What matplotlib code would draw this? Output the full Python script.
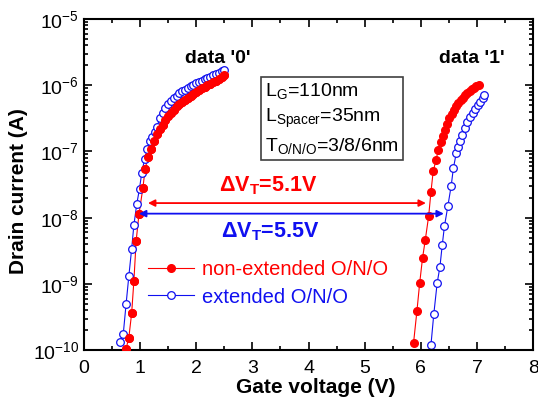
import numpy as np
from matplotlib import pyplot as plt
from matplotlib.ticker import MultipleLocator, LogLocator, NullFormatter

plt.rcParams["font.family"] = ["Liberation Sans", "DejaVu Sans"]
plt.rcParams["mathtext.fontset"] = "custom"
plt.rcParams["mathtext.rm"] = "Liberation Sans"
plt.rcParams["mathtext.bf"] = "Liberation Sans:bold"
plt.rcParams["mathtext.default"] = "regular"

# --- data (gate voltage in V, log10 of drain current in A) ---
vg_red_0 = [0.75, 0.80, 0.85, 0.89, 0.93, 0.98, 1.05, 1.09, 1.14, 1.19, 1.25, 1.30,
            1.35, 1.40, 1.45, 1.50, 1.55, 1.60, 1.65, 1.70, 1.75, 1.80, 1.85, 1.90,
            1.95, 2.00, 2.05, 2.10, 2.15, 2.20, 2.25, 2.30, 2.35, 2.40, 2.45, 2.50]
log_id_red_0 = [-9.98, -9.81, -9.44, -8.95, -8.35, -7.95, -7.55, -7.27, -7.08, -6.97, -6.85, -6.74,
                -6.66, -6.60, -6.53, -6.47, -6.42, -6.37, -6.32, -6.28, -6.25, -6.22, -6.19, -6.16,
                -6.13, -6.10, -6.08, -6.05, -6.03, -6.00, -5.98, -5.95, -5.93, -5.91, -5.88, -5.85]

vg_blue_0 = [0.64, 0.70, 0.75, 0.80, 0.85, 0.89, 0.94, 0.99, 1.03, 1.08, 1.13, 1.18, 1.22,
             1.26, 1.30, 1.35, 1.40, 1.45, 1.50, 1.55, 1.60, 1.65, 1.70, 1.75, 1.80, 1.85,
             1.90, 1.95, 2.00, 2.05, 2.10, 2.15, 2.20, 2.25, 2.30, 2.35, 2.40, 2.45, 2.50]
log_id_blue_0 = [-9.88, -9.76, -9.31, -8.88, -8.47, -8.11, -7.80, -7.56, -7.32, -7.12, -6.97, -6.84, -6.78,
                 -6.70, -6.63, -6.50, -6.42, -6.35, -6.29, -6.24, -6.20, -6.16, -6.12, -6.09, -6.07, -6.04,
                 -6.02, -6.00, -5.97, -5.95, -5.93, -5.91, -5.89, -5.87, -5.85, -5.83, -5.81, -5.79, -5.77]

vg_red_1 = [5.87, 5.93, 5.98, 6.03, 6.08, 6.14, 6.18, 6.22, 6.27, 6.31, 6.35, 6.39, 6.43, 6.47,
            6.51, 6.55, 6.59, 6.63, 6.67, 6.71, 6.75, 6.79, 6.83, 6.87, 6.91, 6.95, 6.99, 7.03]
log_id_red_1 = [-9.89, -9.41, -8.98, -8.61, -8.33, -7.97, -7.61, -7.30, -7.13, -6.98, -6.86, -6.76, -6.67, -6.58,
                -6.50, -6.43, -6.37, -6.31, -6.27, -6.23, -6.19, -6.15, -6.12, -6.09, -6.06, -6.04, -6.02, -6.00]

vg_blue_1 = [6.18, 6.23, 6.29, 6.34, 6.38, 6.42, 6.48, 6.54, 6.58, 6.63, 6.67, 6.70, 6.74,
             6.79, 6.83, 6.88, 6.92, 6.96, 7.01, 7.05, 7.10, 7.13]
log_id_blue_1 = [-9.92, -9.46, -8.99, -8.74, -8.42, -8.13, -7.83, -7.52, -7.25, -7.03, -6.93, -6.84, -6.75,
                 -6.64, -6.56, -6.48, -6.42, -6.36, -6.30, -6.25, -6.20, -6.15]

# threshold shift arrows: (start V, end V, current)
arrow_red = (1.14, 6.09, 1.66e-8)
arrow_blue = (0.98, 6.41, 1.15e-8)

labels = ["non-extended O/N/O", "extended O/N/O"]
c_red = "#FF0000"
c_blue = "#1010F0"

fig = plt.figure(figsize=(5.38, 4.11), dpi=100)
ax = fig.add_axes([0.156, 0.148, 0.835, 0.806])

ax.plot(vg_red_0, 10 ** np.array(log_id_red_0), "-o", color=c_red, lw=0.8, ms=5.5,
        mfc=c_red, mec=c_red, label=labels[0])
ax.plot(vg_red_1, 10 ** np.array(log_id_red_1), "-o", color=c_red, lw=0.8, ms=5.5,
        mfc=c_red, mec=c_red)
ax.plot(vg_blue_0, 10 ** np.array(log_id_blue_0), "-o", color=c_blue, lw=0.8, ms=5.5,
        mfc="white", mec=c_blue, mew=0.9, label=labels[1])
ax.plot(vg_blue_1, 10 ** np.array(log_id_blue_1), "-o", color=c_blue, lw=0.8, ms=5.5,
        mfc="white", mec=c_blue, mew=0.9)
# red '0' markers again on top, as in the original where they cover the blue ones
ax.plot(vg_red_0, 10 ** np.array(log_id_red_0), "o", color=c_red, ms=5.5, zorder=3)

ax.set_yscale("log")
ax.set_xlim(0, 8)
ax.set_ylim(1e-10, 1e-5)

ax.xaxis.set_major_locator(MultipleLocator(1))
ax.xaxis.set_minor_locator(MultipleLocator(0.5))
ax.yaxis.set_major_locator(LogLocator(base=10, numticks=10))
ax.yaxis.set_minor_locator(LogLocator(base=10, subs=np.arange(2, 10), numticks=20))
ax.yaxis.set_minor_formatter(NullFormatter())
ax.tick_params(which="both", direction="in", top=True, right=True, width=1.2)
ax.tick_params(which="major", length=6, labelsize=14)
ax.tick_params(axis="x", which="major", pad=7)
ax.tick_params(which="minor", length=3)
for side in ax.spines:
    ax.spines[side].set_linewidth(1.5)

ax.set_xlabel("Gate voltage (V)", fontsize=15, fontweight="bold")
ax.set_ylabel("Drain current (A)", fontsize=15, fontweight="bold")
ax.xaxis.set_label_coords(0.517, -0.085)
ax.yaxis.set_label_coords(-0.125, 0.48)

# annotations
ax.text(2.39, 2.5e-6, "data '0'", fontsize=14, fontweight="bold", ha="center", va="center")
ax.text(6.91, 2.5e-6, "data '1'", fontsize=14, fontweight="bold", ha="center", va="center")

box_txt = ("L$_\\mathregular{G}$=110nm\n"
           "L$_\\mathregular{Spacer}$=35nm\n"
           "T$_\\mathregular{O/N/O}$=3/8/6nm")
ax.text(3.23, 1.15e-6, box_txt, fontsize=14, ha="left", va="top", linespacing=1.38,
        bbox=dict(boxstyle="square,pad=0.2", fc="white", ec="#404040", lw=1.2))

for (x0, x1, yv), col in [(arrow_red, c_red), (arrow_blue, c_blue)]:
    ax.annotate("", xy=(x0, yv), xytext=(x1, yv),
                arrowprops=dict(arrowstyle="<|-|>", color=col, lw=1.3,
                                mutation_scale=10, shrinkA=0, shrinkB=0))

ax.text(3.29, 3.0e-8, "$\\mathbf{\\Delta V_T}$=5.1V", color=c_red, fontsize=15.5,
        fontweight="bold", ha="center", va="center")
ax.text(3.32, 6.2e-9, "$\\mathbf{\\Delta V_T}$=5.5V", color=c_blue, fontsize=15.5,
        fontweight="bold", ha="center", va="center")

ax.legend(loc="upper left", bbox_to_anchor=(0.1425, 0.272), frameon=False, fontsize=14.5,
          handlelength=2.3, handletextpad=0.4, labelspacing=0.42, borderpad=0,
          borderaxespad=0, labelcolor=[c_red, c_blue], numpoints=1)

fig.savefig("out.png", dpi=100, facecolor="white")
